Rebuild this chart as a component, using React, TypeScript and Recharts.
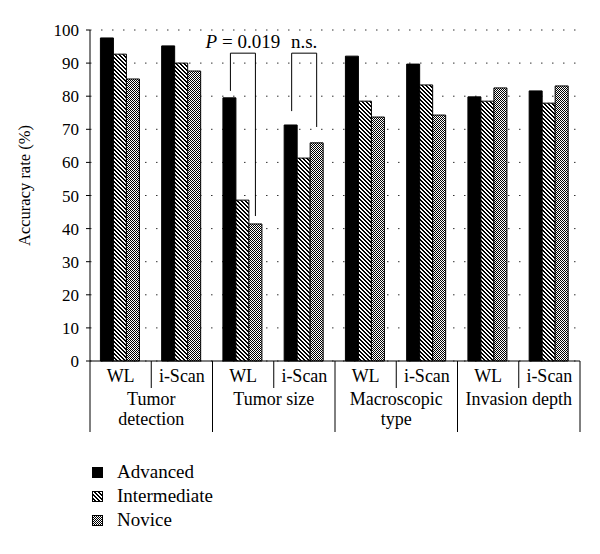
import React from "react";
import { BarChart, Bar, XAxis, YAxis, CartesianGrid, Legend, Rectangle, Label } from "recharts";

const methods = ["WL", "i-Scan", "WL", "i-Scan", "WL", "i-Scan", "WL", "i-Scan"];
const groups = [["Tumor", "detection"], ["Tumor size"], ["Macroscopic", "type"], ["Invasion depth"]];
const advanced = [97.6, 95.2, 79.5, 71.3, 92.1, 89.7, 79.8, 81.6];
const intermediate = [92.7, 90.0, 48.6, 61.3, 78.5, 83.4, 78.5, 77.9];
const novice = [85.2, 87.6, 41.4, 65.9, 73.7, 74.3, 82.5, 83.1];
const yTicks = [0, 10, 20, 30, 40, 50, 60, 70, 80, 90, 100];

// significance brackets: from the Advanced bar to the Novice bar of the same method
const brackets = [
  { index: 2, italic: "P", text: " = 0.019", top: 93, leftEnd: 81.6, rightEnd: 43.8 },
  { index: 3, italic: "", text: "n.s.", top: 93, leftEnd: 75.5, rightEnd: 70.7 },
];

const series = [
  { key: "advanced", name: "Advanced", fill: "#000" },
  { key: "intermediate", name: "Intermediate", fill: "url(#hatch)" },
  { key: "novice", name: "Novice", fill: "url(#dots)" },
];

const data = methods.map((m, i) => ({
  id: `${i}`,
  method: m,
  advanced: advanced[i],
  intermediate: intermediate[i],
  novice: novice[i],
}));

const FONT = "Liberation Serif";

const Patterns = () => (
  <defs>
    <pattern id="hatch" width="4" height="4" patternUnits="userSpaceOnUse">
      <rect width="4" height="4" fill="#fff" />
      <path d="M0,0h2v1h-2zM1,1h2v1h-2zM2,2h2v1h-2zM3,3h1v1h-1zM0,3h1v1h-1z" fill="#000" />
    </pattern>
    <pattern id="dots" width="2" height="2" patternUnits="userSpaceOnUse">
      <rect width="2" height="2" fill="#fff" />
      <rect width="1" height="1" fill="#000" />
      <rect x="1" y="1" width="1" height="1" fill="#000" />
    </pattern>
  </defs>
);

const CategoryTick = (props: any) => {
  const { x, y, payload } = props;
  const i = payload.index ?? props.index;
  const half = payload.offset ?? 30.6;
  const isScan = i % 2 === 1;
  const g = groups[Math.floor(i / 2)];
  return (
    <g>
      <text x={x} y={y + 21} textAnchor="middle" fontSize={18} fontFamily={FONT} fill="#000">
        {methods[i]}
      </text>
      {i === 0 && <line x1={x - half} x2={x - half} y1={y} y2={y + 71} stroke="#000" />}
      <line x1={x + half} x2={x + half} y1={y} y2={y + (isScan ? 71 : 27)} stroke="#000" />
      {isScan &&
        g.map((line, k) => (
          <text
            key={k}
            x={x - half}
            y={y + 44 + k * 20}
            textAnchor="middle"
            fontSize={18}
            fontFamily={FONT}
            fill="#000"
          >
            {line}
          </text>
        ))}
    </g>
  );
};

const AdvancedShape = (props: any) => {
  const { x, y, width, height, index, payload } = props;
  const b = brackets.find((item) => item.index === index);
  let extra = null;
  if (b && height > 0) {
    const ppu = height / payload.advanced;
    const base = y + height;
    const yOf = (v: number) => base - v * ppu;
    const lx = x + width / 2 + 1;
    const rx = x + width * 2.5;
    extra = (
      <g>
        <path
          d={`M${lx},${yOf(b.leftEnd)}V${yOf(b.top)}H${rx}V${yOf(b.rightEnd)}`}
          fill="none"
          stroke="#000"
          strokeWidth={1}
        />
        <text
          x={(lx + rx) / 2}
          y={yOf(b.top) - 5}
          textAnchor="middle"
          fontSize={19}
          fontFamily={FONT}
          fill="#000"
        >
          {b.italic && <tspan fontStyle="italic">{b.italic}</tspan>}
          {b.text}
        </text>
      </g>
    );
  }
  return (
    <g>
      <Rectangle x={x} y={y} width={width} height={height} fill="#000" stroke="#000" />
      {extra}
    </g>
  );
};

const LegendContent = () => (
  <svg width={200} height={80}>
    {series.map((s, k) => (
      <g key={s.key}>
        <rect x={7.5} y={12.5 + k * 24} width={10} height={10} fill={s.fill} stroke="#000" />
        <text x={32} y={23 + k * 24} fontSize={19} fontFamily={FONT} fill="#000">
          {s.name}
        </text>
      </g>
    ))}
  </svg>
);

const App = () => {
  return (
    <div style={{ position: "absolute", left: 0, top: 0, background: "#fff", fontFamily: FONT }}>
      <BarChart
        width={600}
        height={554}
        data={data}
        margin={{ top: 30, right: 20, left: 0, bottom: 113 }}
        barGap={0}
        barCategoryGap="17%"
      >
        <Patterns />
        <CartesianGrid vertical={false} stroke="#333" strokeDasharray="1.5 9.5" />
        <XAxis
          dataKey="id"
          height={80}
          axisLine={{ stroke: "#000" }}
          tickLine={false}
          tickSize={0}
          tickMargin={0}
          interval={0}
          tick={<CategoryTick />}
        />
        <YAxis
          width={90}
          domain={[0, 100]}
          ticks={yTicks}
          interval={0}
          axisLine={{ stroke: "#000" }}
          tickLine={{ stroke: "#000" }}
          tickSize={4}
          tickMargin={7}
          tick={{ fontSize: 17, fontFamily: FONT, fill: "#000" }}
        >
          <Label
            value="Accuracy rate (%)"
            angle={-90}
            position="insideLeft"
            offset={24}
            dy={-10}
            style={{ fontSize: 16.5, fontFamily: FONT, fill: "#000", textAnchor: "middle" }}
          />
        </YAxis>
        <Legend
          layout="vertical"
          align="center"
          verticalAlign="middle"
          content={<LegendContent />}
          wrapperStyle={{ left: 85, top: 455, width: 200 }}
        />
        <Bar dataKey="advanced" name="Advanced" fill="#000" stroke="#000" shape={<AdvancedShape />} isAnimationActive={false} />
        <Bar dataKey="intermediate" name="Intermediate" fill="url(#hatch)" stroke="#000" isAnimationActive={false} />
        <Bar dataKey="novice" name="Novice" fill="url(#dots)" stroke="#000" isAnimationActive={false} />
      </BarChart>
    </div>
  );
};

export default App;
